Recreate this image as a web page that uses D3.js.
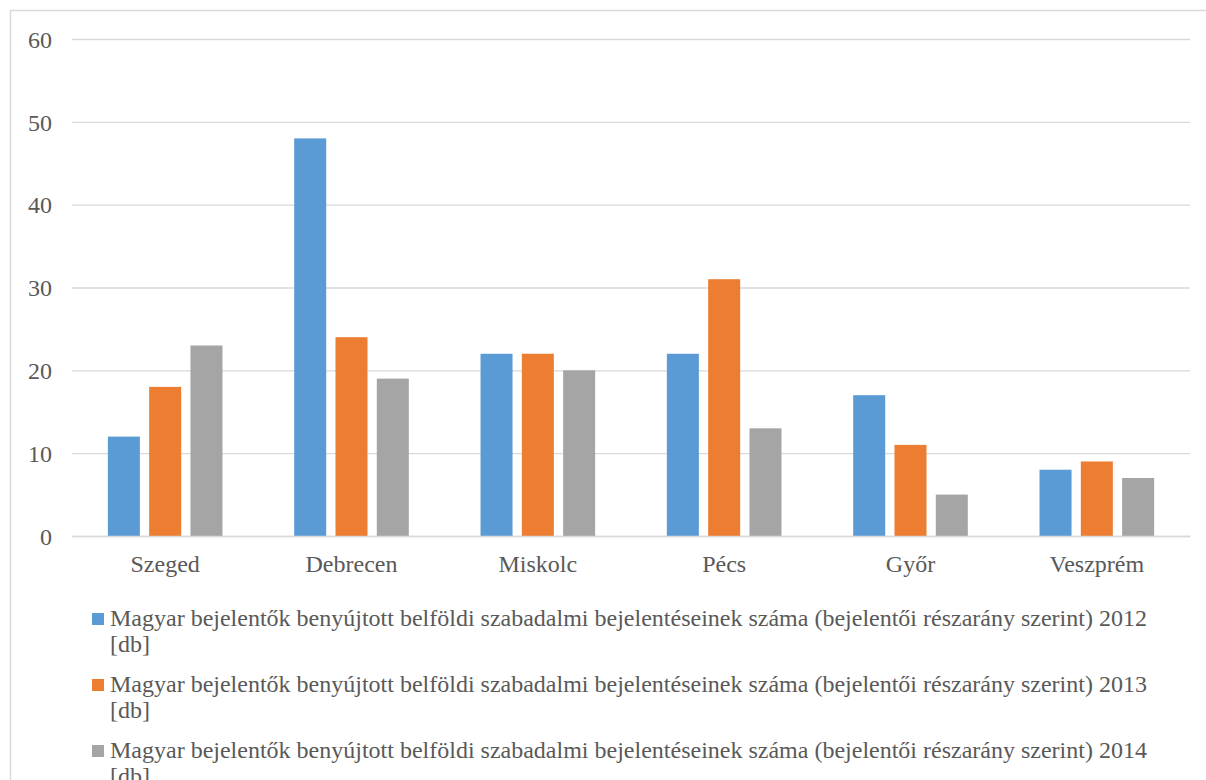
<!DOCTYPE html>
<html><head><meta charset="utf-8">
<script src="https://cdn.jsdelivr.net/npm/d3@7"></script>
<style>
html,body{margin:0;padding:0;background:#fff;overflow:hidden;}
svg{display:block;font-family:"Liberation Serif", serif;}
</style></head>
<body>
<svg id="chart" width="1206" height="780"></svg>
<script>
const categories = ["Szeged", "Debrecen", "Miskolc", "Pécs", "Győr", "Veszprém"];
const seriesNames = [
  "Magyar bejelentők benyújtott belföldi szabadalmi bejelentéseinek száma (bejelentői részarány szerint) 2012 [db]",
  "Magyar bejelentők benyújtott belföldi szabadalmi bejelentéseinek száma (bejelentői részarány szerint) 2013 [db]",
  "Magyar bejelentők benyújtott belföldi szabadalmi bejelentéseinek száma (bejelentői részarány szerint) 2014 [db]"
];
const values2012 = [12, 48, 22, 22, 17, 8];
const values2013 = [18, 24, 22, 31, 11, 9];
const values2014 = [23, 19, 20, 13, 5, 7];
const yTicks = [0, 10, 20, 30, 40, 50, 60];
const colors = ["#5B9BD5", "#ED7D31", "#A5A5A5"];

(function () {
const series = [values2012, values2013, values2014];
const svg = d3.select("#chart");
const font = "Liberation Serif";
const fs = 24;
const textColor = "#595959";
const gridColor = "#D9D9D9";

// outer border
svg.append("rect").attr("x", 10.5).attr("y", 10.5).attr("width", 1220).attr("height", 800)
  .attr("fill", "none").attr("stroke", gridColor).attr("stroke-width", 1.5);

const pLeft = 72, pRight = 1190, pTop = 39, pBottom = 536;
const x = d3.scaleBand().domain(categories).range([pLeft, pRight]).paddingInner(0).paddingOuter(0);
const xs = d3.scaleBand().domain(d3.range(series.length)).range([0, x.bandwidth()])
  .paddingInner(0.225).paddingOuter(0.868);
const y = d3.scaleLinear().domain([0, 60]).range([pBottom, pTop]);

// gridlines
const yAxis = d3.axisLeft(y).tickValues(yTicks).tickSize(-(pRight - pLeft)).tickPadding(20).tickFormat(d3.format("d"));
const gy = svg.append("g").attr("transform", `translate(${pLeft},0)`).call(yAxis)
  .attr("font-family", null).attr("font-size", null);
gy.select(".domain").remove();
gy.selectAll(".tick line").attr("stroke", gridColor).attr("stroke-width", 1.3);
gy.selectAll(".tick text").attr("fill", textColor).style("font-family", font).style("font-size", fs + "px")
  .attr("x", 52 - pLeft).attr("dy", "0.34em");

// bars
series.forEach((vals, si) => {
  svg.append("g").selectAll("rect").data(vals).join("rect")
    .attr("x", (d, i) => x(categories[i]) + xs(si))
    .attr("width", xs.bandwidth())
    .attr("y", d => y(d))
    .attr("height", d => y(0) - y(d))
    .attr("fill", colors[si]);
});

// x axis
const xAxis = d3.axisBottom(x).tickSize(0).tickPadding(0);
const gx = svg.append("g").attr("transform", `translate(0,${pBottom})`).call(xAxis)
  .attr("font-family", null).attr("font-size", null);
gx.select(".domain").attr("stroke", gridColor).attr("stroke-width", 1.3);
gx.selectAll(".tick text").attr("fill", textColor).style("font-family", font).style("font-size", fs + "px")
  .attr("y", 36).attr("dy", 0);

// legend
const legendX = 92, textX = 110, maxRight = 1180;
const firstBaseline = 626, entryStep = 66, lineStep = 26;
series.forEach((vals, si) => {
  const base = firstBaseline + si * entryStep;
  svg.append("rect").attr("x", legendX).attr("y", base - 13).attr("width", 12).attr("height", 12).attr("fill", colors[si]);
  const t = svg.append("text").attr("x", textX).attr("y", base).attr("fill", textColor)
    .style("font-family", font).style("font-size", fs + "px");
  const words = seriesNames[si].split(" ");
  let line = [], lineNo = 0;
  let tspan = t.append("tspan").attr("x", textX).attr("y", base);
  words.forEach(w => {
    line.push(w);
    tspan.text(line.join(" "));
    if (textX + tspan.node().getComputedTextLength() > maxRight && line.length > 1) {
      line.pop();
      tspan.text(line.join(" "));
      line = [w];
      lineNo++;
      tspan = t.append("tspan").attr("x", textX).attr("y", base + lineNo * lineStep).text(w);
    }
  });
});
})();
</script>
</body></html>
